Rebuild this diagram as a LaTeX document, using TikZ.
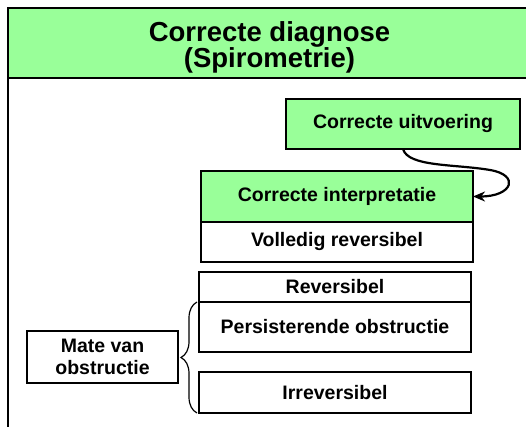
\documentclass[tikz,border=0pt]{standalone}
\usepackage{fontspec}
\setmainfont{Liberation Sans}
\usetikzlibrary{positioning,arrows.meta,decorations.pathreplacing}
\definecolor{lightgreen}{RGB}{153,255,153}

\begin{document}
\begin{tikzpicture}[
x=1pt, y=-1pt,
box/.style={draw, line width=1.5pt, outer sep=0pt, inner sep=0pt, align=center, font=\fontsize{19.5}{22}\bfseries\selectfont},
gbox/.style={box, fill=lightgreen},
arr/.style={-{Stealth[length=12pt,width=10pt]}, line width=2.2pt},
brc/.style={line width=1.2pt, decorate, decoration={brace, amplitude=16pt, aspect=0.5}}
]
\useasboundingbox (0,0) rectangle (526,427);
% frame and header
\node[draw, line width=2pt, outer sep=0pt, anchor=north west, minimum width=523pt, minimum height=440pt] (frame) at (8,8) {};
\node[draw, fill=lightgreen, line width=2pt, outer sep=0pt, anchor=north west, minimum width=523pt, minimum height=70.5pt] (head) at (8,8) {};
\node[align=center, font=\fontsize{27.5}{26}\bfseries\selectfont] (title) at (269.5,47) {Correcte diagnose\\(Spirometrie)};

\node[gbox, minimum width=234pt, minimum height=50pt] (uitv) at (403,124) {Correcte uitvoering};
\node[gbox, minimum width=272pt, minimum height=51pt] (interp) at (337,196.5) {Correcte interpretatie};
\node[box, minimum width=272pt, minimum height=40pt, below=0pt of interp] (voll) {Volledig reversibel};

\node[box, minimum width=272pt, minimum height=30pt] (rev) at (335,287) {Reversibel};
\node[box, minimum width=272pt, minimum height=50pt, below=0pt of rev] (pers) {Persisterende obstructie};
\node[box, minimum width=272pt, minimum height=41pt] (irrev) at (335,392.5) {Irreversibel};

\node[box, minimum width=151pt, minimum height=52pt] (mate) at (102.5,357) {Mate van\\obstructie};

\draw[arr] (uitv.south) .. controls +(5,18) and +(-35,-6) .. (490,170) .. controls +(30,5) and +(40,0) .. (interp.east);
\draw[brc] ([xshift=-2pt]irrev.south west) -- ([xshift=-2pt]pers.north west);
\end{tikzpicture}
\end{document}
